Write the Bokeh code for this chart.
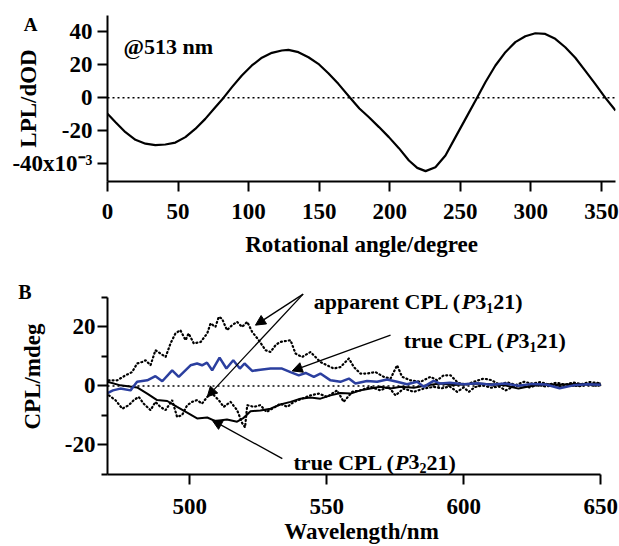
from bokeh.plotting import figure
from bokeh.layouts import column
from bokeh.models import FixedTicker, Span, Arrow, NormalHead, Range1d, LinearAxis
from bokeh.core.properties import value
from bokeh.embed import file_html
from bokeh.resources import INLINE

FONT = "Liberation Serif"

# ---------------- Panel A data ----------------
angle_deg = [0, 5.7, 12.7, 19.8, 26.9, 33.9, 41, 48.1, 55.2, 62.2, 69.3, 76.4, 82.3, 88.2,
             95.2, 102.3, 109.4, 116.5, 123.5, 128.2, 135.3, 142.4, 149.4, 156.5, 163.6,
             171.9, 178.5, 185.3, 192.4, 199.4, 206.5, 213.6, 219.5, 225.4, 232.4, 239.5,
             246.6, 253.7, 261.9, 267.8, 274.9, 282, 289, 296.1, 303.2, 310.2, 317.3, 324.4,
             331.5, 338.5, 345.6, 352.7, 360]
lpl = [-9.8, -14.9, -21, -25.6, -28, -28.9, -28.5, -27.3, -24, -19, -12.9, -5.8, 0, 6.4,
       13.5, 19.6, 24.3, 27.3, 28.7, 29.1, 27.7, 24.6, 20.6, 14.9, 8.4,
       0, -6.6, -11.9, -17.9, -24, -30.7, -38.2, -42.7, -44.7, -42.3, -35.2,
       -24, -12.9, 0, 9.4, 19.6, 27.7, 33.8, 37.4, 39.2, 38.8, 35.8, 30.7,
       24.3, 16.5, 8.4, 0, -7.8]
a_xticks = [0, 50, 100, 150, 200, 250, 300, 350]
a_yticks = [-40, -20, 0, 20, 40]
a_ylabels = {40: "40", 20: "20", 0: "0", -20: "-20", -40: "-40x10\u207b\u00b3"}

# ---------------- Panel B data ----------------
wl_blue = [470, 472, 474.7, 478.4, 480.8, 484.5, 487.5, 490, 493.6, 496, 500.3, 502.7, 504.5,
           506.3, 508.2, 510.9, 513.4, 515.9, 518.3, 520, 522.8, 525.8, 529.5, 533.7, 536.8,
           539.8, 542.3, 545.3, 547.7, 551.4, 555, 558.1, 560.5, 564.7, 568.4, 572, 575.7,
           579.3, 583, 585.4, 589, 591.5, 595, 600, 605, 610, 615, 620, 625, 630, 635, 640,
           645, 650]
cpl_true_p3121 = [-2.4, -1.5, -0.9, -1.5, 1.4, 1.9, 3.3, 1.6, 5.3, 3.1, 7.0, 7.6, 7.0,
                  7.9, 5.3, 9.6, 5.9, 8.7, 5.9, 7.6, 5.1, 5.5, 5.9, 5.9, 4.7,
                  3.6, 4.4, 3.1, 4.2, 1.9, 1.4, 2.5, 0.8, 1.7, 1.4, 2.2, 1.4,
                  0.6, 1.4, -0.3, 1.7, 0.8, 1.1, 0.6, 0.9, 0.4, 0.8, 0.1, 0.7, 0.5, -0.8, 0.2,
                  0.6, 0.4]

wl_black = [470, 474.7, 480.8, 484.5, 488.1, 491.8, 495.4, 499.7, 502.7, 506.4, 509.4, 513.6,
            517.3, 519.7, 522.2, 525.8, 529.5, 533.1, 536.8, 540.4, 544.1, 547.7, 551.4, 555,
            558.7, 562.3, 566, 569.6, 573.3, 577, 581.8, 586.6, 591.5, 596, 600, 605, 610,
            615, 620, 625, 630, 635, 640, 645, 650]
cpl_true_p3221 = [1.4, 0.2, -0.5, -2.6, -4.8, -5.1, -7.1, -9.4, -11, -10.7, -11.9, -11.4,
                  -12.1, -10.8, -8.6, -8.3, -7.7, -6.3, -5.4, -4.3, -3.9, -4.3, -3.2, -2.4,
                  -2.6, -1.5, -0.9, -0.3, -0.9, -0.3, -0.6, 0.2, 0.8, 0.3, 0.5, 0.8, 0.6,
                  0.2, -0.9, 0.1, 0.6, 0.4, 0.7, 0.6, 0.8]

wl_app_up = [470.4, 473.5, 476.6, 479, 480.8, 482.6, 483.9, 485.7, 487.5, 489.3, 491.2, 493,
             494.8, 496.6, 498.5, 499.6, 501.5, 504, 506.4, 507.6, 509.4, 510.6, 511.8, 513.6,
             515.5, 517.3, 519.1, 521, 522.8, 525.2, 527.7, 529.5, 531.5, 533.1, 536.8, 538.6,
             541, 544.1, 547.7, 550.1, 552.6, 555, 558.1, 559.9, 562.3, 564.7, 567.8, 570.8,
             573.3, 575.7, 577.5, 580.6, 584.2, 587.9, 590.3, 592.7, 595.2, 598, 601, 604,
             607.3, 610, 613, 616, 619, 622, 625, 628, 631, 634, 637, 640, 643, 646, 650]
cpl_app_up = [1.9, 1.9, 3.6, 4.7, 7.6, 8.1, 8.7, 7.0, 12.1, 11.0, 9.8, 14.4,
              17.8, 18.9, 15.5, 17.8, 14.4, 14.9, 17.8, 21.2, 20.0, 23.4, 22.8, 18.9,
              20.6, 21.7, 20.0, 21.7, 18.3, 15.5, 12.1, 11.5, 14.0, 14.9, 15.5, 11.0,
              9.8, 11.5, 8.1, 7.0, 5.9, 6.4, 9.3, 6.4, 4.2, 4.2, 4.7, 3.1,
              2.5, 7.0, 3.1, 1.9, 1.4, 3.1, 1.9, 3.6, 3.6, 1.0, 0.5, 1.5,
              2.5, 2.0, 0.5, 1.2, 0.3, 1.4, 0.8, 1.3, 0.5, 1.1, 0.4, 1.2, 0.6, 1.3, 0.9]

wl_app_low = [470.5, 472.9, 475.4, 477.8, 479.6, 481.4, 483.2, 485.7, 487.5, 489.3, 491.2,
              493.6, 495.4, 497.2, 499.1, 500.9, 502.7, 504.5, 506.4, 508.2, 510.6, 512.4,
              514.9, 517.3, 519.1, 520.2, 521, 523.4, 525.8, 528, 530.5, 533.1, 535.6, 538,
              541, 544.1, 547.1, 550.1, 553.8, 556.2, 559.3, 562.3, 566, 569.6, 572.6, 575.1,
              578.1, 581.8, 585.4, 589.1, 592, 595, 597.6, 600, 601.9, 604, 607, 610, 613,
              615.3, 618, 621, 624, 627, 630, 633, 636, 639, 642, 645, 648, 650]
cpl_app_low = [-3.2, -4.8, -7.7, -6.5, -4.8, -3.7, -6.0, -8.2, -5.4, -7.1, -8.2,
               -4.8, -10.5, -9.9, -6.5, -5.4, -4.8, -6.0, -3.7, -2.6, -4.8, -7.1,
               -5.4, -8.2, -12.5, -14.0, -6.5, -7.1, -6.5, -8.8, -7.5, -6.0, -7.1, -5.4,
               -4.3, -3.2, -2.6, -3.7, -1.5, -5.4, -2.0, -1.5, -0.3, -1.5, -0.3, -3.2,
               -0.9, -2.0, -0.9, -0.3, -0.8, -0.2, -2.0, -0.5, -2.0, -0.4, 0.2, -0.6, -0.2,
               -1.5, -0.3, 0.2, -0.5, 0.3, -0.2, 0.4, -0.3, 0.2, -0.1, 0.4, 0.1, 0.3]

b_xmin, b_xmax = 470, 650
b_xticks = [500, 550, 600, 650]
b_yticks = [-20, 0, 20]
b_yminor = [-30, -10, 10, 30]
b_ylabels = {20: "20", 0: "0", -20: "-20"}

BLUE = "#2b3f9f"

# Times/Liberation Serif Bold advance widths (1/1000 em)
W = {'a': 500, 'p': 556, 'r': 444, 'e': 444, 'n': 556, 't': 333, ' ': 250, 'C': 722,
     'P': 611, 'L': 667, '(': 333, ')': 333, '1': 500, '2': 500, '3': 500, 'u': 556}


def text_width(s, size):
    return sum(W[c] for c in s) / 1000.0 * size


def rich(p, x, y, parts):
    off = 0.0
    for txt, style, size, dy in parts:
        p.text(x=[x], y=[y], text=[txt], x_offset=off, y_offset=dy,
               text_font=value(FONT), text_font_style=style,
               text_font_size=f"{size}px", text_baseline="alphabetic",
               text_align="left", text_color="black")
        off += text_width(txt, size)


def style_axis(ax, size="23px"):
    ax.axis_line_width = 2
    ax.axis_line_color = "black"
    ax.major_tick_line_width = 2
    ax.major_tick_line_color = "black"
    ax.minor_tick_line_width = 2
    ax.minor_tick_line_color = "black"
    ax.major_tick_in = 0
    ax.major_tick_out = 10
    ax.minor_tick_in = 0
    ax.minor_tick_out = 6
    ax.major_label_text_font = FONT
    ax.major_label_text_font_style = "bold"
    ax.major_label_text_font_size = size
    ax.major_label_text_color = "black"
    ax.axis_label_text_font = FONT
    ax.axis_label_text_font_style = "bold"
    ax.axis_label_text_font_size = size
    ax.axis_label_text_color = "black"


def letter_axis(ypos, letter, size, standoff, label, label_standoff, bounds="auto"):
    ax = LinearAxis(ticker=FixedTicker(ticks=[ypos], minor_ticks=[]), bounds=bounds)
    style_axis(ax)
    ax.axis_line_color = None
    ax.major_tick_line_color = None
    ax.minor_tick_line_color = None
    ax.major_tick_out = 0
    ax.minor_tick_out = 0
    ax.major_label_overrides = {ypos: letter}
    ax.major_label_text_font_size = size
    ax.major_label_standoff = standoff
    ax.axis_label = label
    ax.axis_label_standoff = label_standoff
    return ax


def clean(p):
    p.xgrid.visible = False
    p.ygrid.visible = False
    p.outline_line_color = None
    p.background_fill_color = "white"
    p.border_fill_color = "white"


# ---------------- Figure A ----------------
pa = figure(width=619, height=270, output_backend="svg", toolbar_location=None,
            x_range=Range1d(0, 360), y_range=Range1d(-51, 50),
            min_border_left=106, min_border_right=4, min_border_top=15, min_border_bottom=89)
clean(pa)
ax_ax = pa.xaxis[0]
ay_ax = pa.yaxis[0]
style_axis(ax_ax)
style_axis(ay_ax)
ax_ax.ticker = FixedTicker(ticks=a_xticks, minor_ticks=[])
ay_ax.ticker = FixedTicker(ticks=a_yticks, minor_ticks=[])
ay_ax.major_label_overrides = a_ylabels
ax_ax.axis_label = "Rotational angle/degree"
ax_ax.major_label_standoff = 12
ax_ax.axis_label_standoff = 10
ay_ax.major_label_standoff = 5
pa.add_layout(letter_axis(44.5, "A", "19px", -28, "LPL/dOD", -20), "left")

pa.add_layout(Span(location=0, dimension="width", line_color="black",
                   line_width=1.6, line_dash="2 3"))
pa.line(angle_deg, lpl, line_color="black", line_width=2.2)
pa.text(x=[11.3], y=[31.3], text=["@513 nm"], text_font=value(FONT),
        text_font_style="bold", text_font_size="22px", text_baseline="alphabetic",
        text_align="left", text_color="black")

# ---------------- Figure B ----------------
# frame extends a little past 650 nm (same right border as panel A); axis bounded to 650
pb = figure(width=619, height=276, output_backend="svg", toolbar_location=None,
            x_range=Range1d(b_xmin, 655.4), y_range=Range1d(-30, 36.4),
            min_border_left=107, min_border_right=4, min_border_top=8, min_border_bottom=72)
clean(pb)
bx_ax = pb.xaxis[0]
by_ax = pb.yaxis[0]
style_axis(bx_ax)
style_axis(by_ax)
bx_ax.ticker = FixedTicker(ticks=b_xticks, minor_ticks=[])
bx_ax.bounds = (b_xmin, b_xmax)
by_ax.ticker = FixedTicker(ticks=b_yticks, minor_ticks=b_yminor)
by_ax.major_label_overrides = b_ylabels
by_ax.bounds = (-30, 30)
bx_ax.axis_label = "Wavelength/nm"
bx_ax.major_label_standoff = 14
bx_ax.axis_label_standoff = 2
by_ax.major_label_standoff = 2
pb.add_layout(letter_axis(31.9, "B", "20px", 30, "CPL/mdeg", -30, bounds=(-30, 32)), "left")

pb.line([b_xmin, b_xmax], [0, 0], line_color="black", line_width=1.6, line_dash="2 3")
pb.line(wl_app_up, cpl_app_up, line_color="black", line_width=2.2, line_dash="1 3",
        line_cap="round")
pb.line(wl_app_low, cpl_app_low, line_color="black", line_width=2.2, line_dash="1 3",
        line_cap="round")
pb.line(wl_black, cpl_true_p3221, line_color="black", line_width=2)
pb.line(wl_blue, cpl_true_p3121, line_color=BLUE, line_width=2.5)

# arrows (tail -> head)
arrows = [
    (541.4, 31.1, 524.0, 20.6),
    (541.4, 31.1, 506.4, -3.7),
    (573.3, 17.2, 537.4, 5.1),
    (533.8, -24.6, 508.2, -11.6),
]
for xs, ys, xe, ye in arrows:
    pb.add_layout(Arrow(end=NormalHead(size=10, fill_color="black", line_color="black",
                                       line_width=1),
                        x_start=xs, y_start=ys, x_end=xe, y_end=ye,
                        line_color="black", line_width=1.3))

rich(pb, 545.3, 28.5, [("apparent CPL (", "bold", 22, 0), ("P", "bold italic", 22, 0),
                       ("3", "bold", 22, 0), ("1", "bold", 14, 6), ("21)", "bold", 22, 0)])
rich(pb, 578.1, 15.3, [("true CPL (", "bold", 22, 0), ("P", "bold italic", 22, 0),
                       ("3", "bold", 22, 0), ("1", "bold", 14, 6), ("21)", "bold", 22, 0)])
rich(pb, 537.9, -25.8, [("true CPL (", "bold", 22, 0), ("P", "bold italic", 22, 0),
                        ("3", "bold", 22, 0), ("2", "bold", 14, 6), ("21)", "bold", 22, 0)])

layout = column(pa, pb, spacing=0)
open("out.html", "w").write(file_html(layout, INLINE))
